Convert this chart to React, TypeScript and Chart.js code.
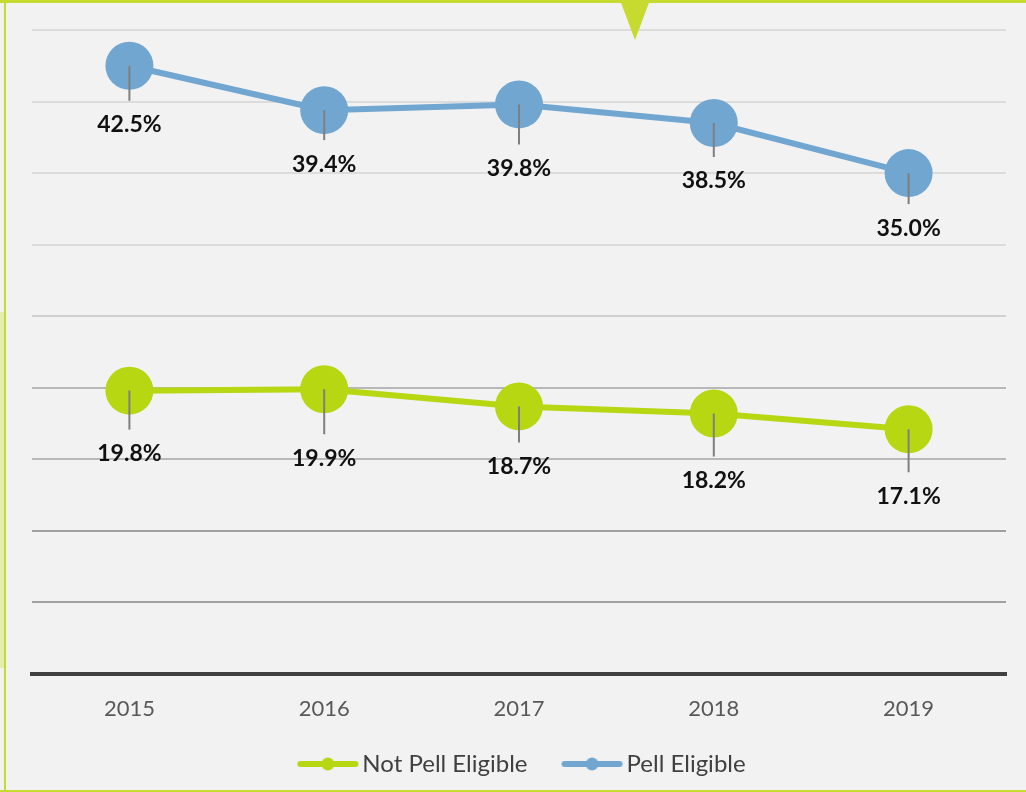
import React, { useEffect, useRef } from "react";
import { Chart, registerables } from "chart.js";

Chart.register(...registerables);

const years = ["2015", "2016", "2017", "2018", "2019"];
const notPellEligible = [19.8, 19.9, 18.7, 18.2, 17.1];
const pellEligible = [42.5, 39.4, 39.8, 38.5, 35.0];
const seriesNames = ["Not Pell Eligible", "Pell Eligible"];
const yMin = 0;
const yMax = 45;
const yStep = 5;

// label distance below each point (style only)
const notPellLabelOffsets = [63, 69, 60, 67, 67];
const pellLabelOffsets = [59, 54, 64, 58, 55];

const GREEN = "#b6d712";
const BLUE = "#71a6d1";
const FRAME = "#c6da2f";
const FONT = "Lato, 'Open Sans', sans-serif";

// legend marker: a line with a dot, drawn off-centre inside a wider canvas
function legendMarker(color: string) {
  const c = document.createElement("canvas");
  c.width = 110;
  c.height = 14;
  const ctx = c.getContext("2d")!;
  const a = 31;
  ctx.strokeStyle = color;
  ctx.lineWidth = 6;
  ctx.lineCap = "round";
  ctx.beginPath();
  ctx.moveTo(a + 3, 7);
  ctx.lineTo(a + 58, 7);
  ctx.stroke();
  ctx.fillStyle = color;
  ctx.beginPath();
  ctx.arc(a + 30.5, 7, 6.5, 0, Math.PI * 2);
  ctx.fill();
  return c;
}

const labelPlugin = {
  id: "pointLabels",
  afterDatasetsDraw(chart: any) {
    const ctx = chart.ctx;
    const offsets = [notPellLabelOffsets, pellLabelOffsets];
    chart.data.datasets.forEach((ds: any, di: number) => {
      const meta = chart.getDatasetMeta(di);
      meta.data.forEach((pt: any, i: number) => {
        const off = offsets[di][i];
        ctx.save();
        ctx.strokeStyle = "#7f7f7f";
        ctx.lineWidth = 2;
        ctx.beginPath();
        ctx.moveTo(pt.x, pt.y);
        ctx.lineTo(pt.x, pt.y + off - 24);
        ctx.stroke();
        ctx.fillStyle = "#111";
        ctx.font = `bold 23px ${FONT}`;
        ctx.textAlign = "center";
        ctx.textBaseline = "middle";
        ctx.fillText(ds.data[i].toFixed(1) + "%", pt.x, pt.y + off);
        ctx.restore();
      });
    });
  },
};

const framePlugin = {
  id: "frame",
  beforeDraw(chart: any) {
    const ctx = chart.ctx;
    ctx.save();
    ctx.fillStyle = "#f2f2f2";
    ctx.fillRect(0, 0, chart.width, chart.height);
    ctx.restore();
  },
  afterDraw(chart: any) {
    const ctx = chart.ctx;
    ctx.save();
    ctx.fillStyle = FRAME;
    ctx.fillRect(0, 0, chart.width, 3);
    ctx.fillRect(4, 0, 2, chart.height);
    ctx.fillRect(0, chart.height - 2, chart.width, 2);
    ctx.fillStyle = "#e4ecb0";
    ctx.fillRect(0, 312, 4, 356);
    ctx.fillStyle = FRAME;
    ctx.beginPath();
    ctx.moveTo(620, 0);
    ctx.lineTo(650, 0);
    ctx.lineTo(635, 40);
    ctx.closePath();
    ctx.fill();
    ctx.restore();
  },
};

function gridColor(v: number) {
  if (v >= 30) return "#dcdcdc";
  if (v >= 25) return "#d0d0d0";
  if (v >= 15) return "#b8b8b8";
  return "#a0a0a0";
}

export default function App() {
  const ref = useRef<HTMLCanvasElement>(null);
  useEffect(() => {
    const markers = [legendMarker(GREEN), legendMarker(BLUE)];
    const chart = new Chart(ref.current!, {
      type: "line",
      data: {
        labels: years,
        datasets: [
          {
            label: seriesNames[0],
            data: notPellEligible,
            borderColor: GREEN,
            backgroundColor: GREEN,
            borderWidth: 6,
            pointRadius: 24,
            pointHoverRadius: 24,
            pointBackgroundColor: GREEN,
            pointBorderWidth: 0,
            tension: 0,
            clip: false,
          },
          {
            label: seriesNames[1],
            data: pellEligible,
            borderColor: BLUE,
            backgroundColor: BLUE,
            borderWidth: 6,
            pointRadius: 24,
            pointHoverRadius: 24,
            pointBackgroundColor: BLUE,
            pointBorderWidth: 0,
            tension: 0,
            clip: false,
          },
        ],
      },
      options: {
        animation: false,
        responsive: false,
        layout: { autoPadding: false, padding: { left: 32, right: 20, top: 30, bottom: 6 } },
        plugins: {
          tooltip: { enabled: false },
          legend: {
            position: "bottom",
            labels: {
              usePointStyle: true,
              pointStyleWidth: 58,
              padding: 29,
              color: "#404040",
              font: { family: FONT, size: 24 },
              generateLabels: (ch: any) =>
                ch.data.datasets.map((d: any, i: number) => ({
                  text: d.label,
                  pointStyle: markers[i],
                  fillStyle: d.borderColor,
                  strokeStyle: d.borderColor,
                  lineWidth: 0,
                  fontColor: "#404040",
                  datasetIndex: i,
                  hidden: false,
                })),
            },
          },
        },
        scales: {
          x: {
            offset: true,
            grid: { display: false, drawTicks: false },
            border: { display: true, color: "#404040", width: 4 },
            ticks: {
              padding: 22,
              color: "#595959",
              font: { family: FONT, size: 22 },
            },
            afterFit: (scale: any) => {
              scale.height = 49;
            },
          },
          y: {
            min: yMin,
            max: yMax,
            ticks: { display: false, stepSize: yStep },
            border: { display: false },
            grid: {
              drawTicks: false,
              lineWidth: 2,
              color: (c: any) => gridColor(c.tick.value),
            },
          },
        },
      },
      plugins: [framePlugin, labelPlugin],
    });
    return () => chart.destroy();
  }, []);
  return (
    <div style={{ position: "fixed", left: 0, top: 0, width: 1026, height: 792, background: "#f2f2f2" }}>
      <canvas ref={ref} width={1026} height={792} style={{ width: 1026, height: 792, display: "block" }} />
    </div>
  );
}
